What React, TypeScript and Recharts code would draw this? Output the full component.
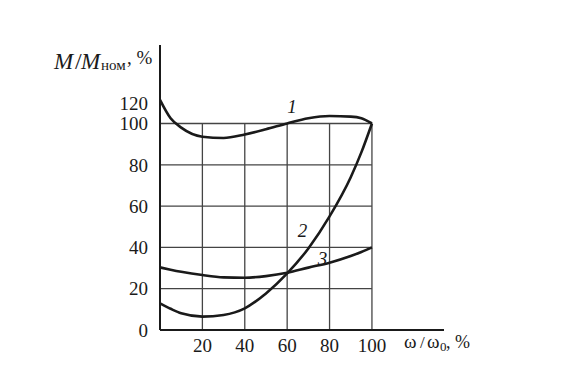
import { LineChart, Line, XAxis, YAxis, ReferenceLine, ReferenceDot } from "recharts";

// ω/ω0, % — sample points
const omega = [0, 5, 10, 20, 30, 40, 50, 60, 70, 80, 90, 95, 100];
// M/Mном, % for curves 1, 2, 3 (curve 1 top end sits on the compressed "120" mark)
const curve1 = [111.4, 102.5, 98, 93.6, 93.0, 94.7, 97.2, 100, 102.5, 103.6, 103.3, 102.5, 100];
const curve2 = [12.9, 10.3, 8.1, 6.5, 7.3, 10.5, 17.7, 27.4, 39.5, 55, 74, 86, 100];
const curve3 = [30.3, 29.2, 28.2, 26.6, 25.5, 25.3, 26.1, 27.7, 30.2, 32.6, 35.8, 37.8, 40];

const xTicks = [20, 40, 60, 80, 100];
const yTicks = [0, 20, 40, 60, 80, 100, 110];
const yTickLabels: Record<number, string> = { 110: "120" };
const gridSteps = [20, 40, 60, 80, 100];

const curveLabels = [
  { name: "1", x: 62.3, y: 108.4 },
  { name: "2", x: 67.2, y: 48.4 },
  { name: "3", x: 76.7, y: 34.6 },
];

const data = omega.map((w, i) => ({ w, c1: curve1[i], c2: curve2[i], c3: curve3[i] }));

const font = "'Liberation Serif', 'Times New Roman', serif";
const ink = "#1a1a1a";

export default function App() {
  const tick = { fontSize: 19, fill: ink, fontFamily: font };
  return (
    <div style={{ position: "relative", width: 569, height: 372, background: "#fff" }}>
      <style>{`body{margin:0}`}</style>
      <LineChart width={569} height={372} data={data} margin={{ top: 45, right: 125, bottom: 0, left: 0 }}>
        <XAxis
          dataKey="w"
          type="number"
          domain={[0, 134]}
          ticks={xTicks}
          interval={0}
          tickLine={false}
          tickSize={0}
          tickMargin={9}
          axisLine={{ stroke: ink, strokeWidth: 2 }}
          tick={tick}
          height={42}
        />
        <YAxis
          type="number"
          domain={[0, 138]}
          ticks={yTicks}
          interval={0}
          tickLine={false}
          tickSize={0}
          tickMargin={12}
          axisLine={{ stroke: ink, strokeWidth: 2 }}
          tick={tick}
          tickFormatter={(v: number) => yTickLabels[v] ?? String(v)}
          width={160}
        />
        {gridSteps.map((v) => (
          <ReferenceLine key={"h" + v} segment={[{ x: 0, y: v }, { x: 100, y: v }]} stroke="#444" strokeWidth={1.3} />
        ))}
        {gridSteps.map((v) => (
          <ReferenceLine key={"v" + v} segment={[{ x: v, y: 0 }, { x: v, y: 100 }]} stroke="#444" strokeWidth={1.3} />
        ))}
        <Line dataKey="c1" type="monotone" stroke={ink} strokeWidth={2.6} dot={false} isAnimationActive={false} />
        <Line dataKey="c2" type="monotone" stroke={ink} strokeWidth={2.6} dot={false} isAnimationActive={false} />
        <Line dataKey="c3" type="monotone" stroke={ink} strokeWidth={2.6} dot={false} isAnimationActive={false} />
        {curveLabels.map((l) => (
          <ReferenceDot
            key={l.name}
            x={l.x}
            y={l.y}
            r={0}
            stroke="none"
            label={{ value: l.name, position: "center", fontSize: 19, fontStyle: "italic", fill: ink, fontFamily: font }}
          />
        ))}
      </LineChart>
      <svg width={569} height={372} style={{ position: "absolute", left: 0, top: 0, pointerEvents: "none" }}>
        <text fontFamily={font} fill={ink}>
          <tspan x={54} y={69} fontSize={23} fontStyle="italic">M</tspan>
          <tspan x={75} y={69} fontSize={24}>/</tspan>
          <tspan x={81} y={69} fontSize={23} fontStyle="italic">M</tspan>
          <tspan x={101} y={70} fontSize={15}>ном</tspan>
          <tspan x={127} y={64} fontSize={19}>, %</tspan>
        </text>
        <text fontFamily={font} fill={ink}>
          <tspan x={404} y={348} fontSize={19}>ω</tspan>
          <tspan x={420} y={348} fontSize={17}>/</tspan>
          <tspan x={427} y={348} fontSize={19}>ω</tspan>
          <tspan x={440} y={351} fontSize={13}>0</tspan>
          <tspan x={446} y={348} fontSize={18}>, %</tspan>
        </text>
      </svg>
    </div>
  );
}
